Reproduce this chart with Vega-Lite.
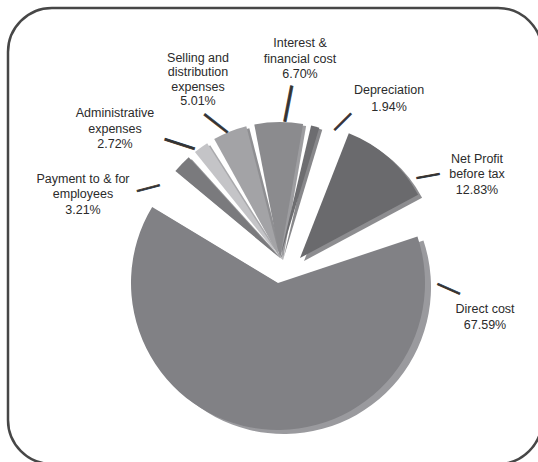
{
  "$schema": "https://vega.github.io/schema/vega-lite/v6.json",
  "autosize": {"type": "fit", "contains": "padding"},
  "width": 538,
  "height": 462,
  "padding": {"left": 8, "top": 8, "right": -4, "bottom": -2},
  "background": "white",
  "view": {"stroke": "#474747", "strokeWidth": 2.5, "cornerRadius": 44, "fill": "white"},
  "config": {
    "view": {"stroke": "#474747", "strokeWidth": 2.5, "cornerRadius": 44, "fill": "white"},
    "style": {"cell": {"stroke": "#474747", "strokeWidth": 2.5, "cornerRadius": 44, "fill": "white"}},
    "text": {"font": "Liberation Sans", "fontSize": 12.5, "color": "#2b2b2b", "lineHeight": 15.5}
  },
  "data": {
    "values": [
      {"item": "Payment to & for employees", "pct": 3.21, "label": ["Payment to & for", "employees", "3.21%"]},
      {"item": "Administrative expenses", "pct": 2.72, "label": ["Administrative", "expenses", "2.72%"]},
      {"item": "Selling and distribution expenses", "pct": 5.01, "label": ["Selling and", "distribution", "expenses", "5.01%"]},
      {"item": "Interest & financial cost", "pct": 6.70, "label": ["Interest &", "financial cost", "6.70%"]},
      {"item": "Depreciation", "pct": 1.94, "label": ["Depreciation", "1.94%"]},
      {"item": "Net Profit before tax", "pct": 12.83, "label": ["Net Profit", "before tax", "12.83%"]},
      {"item": "Direct cost", "pct": 67.59, "label": ["Direct cost", "67.59%"]}
    ]
  },
  "transform": [
    {"window": [{"op": "row_number", "as": "rank"}]},
    {"stack": "pct", "groupby": [], "sort": [{"field": "rank", "order": "ascending"}], "as": ["v0", "v1"]}
  ],
  "encoding": {
    "theta": {"field": "v0", "type": "quantitative", "stack": null, "scale": {"domain": [0, 100], "range": [-0.907571, 5.375614]}},
    "theta2": {"field": "v1"}
  },
  "layer": [
    {
      "transform": [{"filter": "datum.item === 'Direct cost'"}],
      "layer": [
        {"mark": {"type": "arc", "outerRadius": 147, "padAngle": 0.24, "xOffset": 9, "yOffset": 51},
         "encoding": {"fill": {"field": "item", "type": "nominal", "legend": null,
           "scale": {"domain": ["Payment to & for employees", "Administrative expenses", "Selling and distribution expenses", "Interest & financial cost", "Depreciation", "Net Profit before tax", "Direct cost"],
                     "range": ["#959598", "#a9a9ac", "#8f8f92", "#9d9da0", "#88888b", "#8d8d90", "#9a9a9e"]}}}},
        {"mark": {"type": "arc", "outerRadius": 147, "padAngle": 0.24, "xOffset": 3, "yOffset": 47},
         "encoding": {"color": {"field": "item", "type": "nominal", "legend": null,
           "scale": {"domain": ["Payment to & for employees", "Administrative expenses", "Selling and distribution expenses", "Interest & financial cost", "Depreciation", "Net Profit before tax", "Direct cost"],
                     "range": ["#7a7a7d", "#c4c4c7", "#a3a3a6", "#8b8b8e", "#6d6d70", "#6a6a6d", "#818185"]}}}}
      ]
    },
    {
      "transform": [{"filter": "datum.item !== 'Direct cost' && datum.item !== 'Net Profit before tax'"}],
      "layer": [
        {"mark": {"type": "arc", "outerRadius": 136, "padAngle": 0.06, "xOffset": 8, "yOffset": 24},
         "encoding": {"fill": {"field": "item", "type": "nominal", "legend": null}}},
        {"mark": {"type": "arc", "outerRadius": 136, "padAngle": 0.06, "xOffset": 5, "yOffset": 22},
         "encoding": {"color": {"field": "item", "type": "nominal", "legend": null}}}
      ]
    },
    {
      "transform": [{"filter": "datum.item === 'Net Profit before tax'"}],
      "layer": [
        {"mark": {"type": "arc", "outerRadius": 134, "padAngle": 0.1, "xOffset": 29, "yOffset": 25},
         "encoding": {"fill": {"field": "item", "type": "nominal", "legend": null}}},
        {"mark": {"type": "arc", "outerRadius": 134, "padAngle": 0.1, "xOffset": 25, "yOffset": 22},
         "encoding": {"color": {"field": "item", "type": "nominal", "legend": null}}}
      ]
    },
    {
      "transform": [{"filter": "datum.item === 'Payment to & for employees'"}],
      "layer": [
        {"mark": {"type": "text", "radius": 199.2, "thetaOffset": -0.3939, "align": "center", "baseline": "alphabetic"},
         "encoding": {"theta2": null, "text": {"field": "label", "type": "nominal"}}},
        {"mark": {"type": "text", "text": "—", "radius": 136.1, "thetaOffset": -0.2950, "angle": 345, "fontSize": 23, "align": "center", "baseline": "middle", "color": "#333333", "stroke": "#333333", "strokeWidth": 0.8},
         "encoding": {"theta2": null}}
      ]
    },
    {
      "transform": [{"filter": "datum.item === 'Administrative expenses'"}],
      "layer": [
        {"mark": {"type": "text", "radius": 199.4, "thetaOffset": -0.2255, "align": "center", "baseline": "alphabetic"},
         "encoding": {"theta2": null, "text": {"field": "label", "type": "nominal"}}},
        {"mark": {"type": "text", "text": "—", "radius": 132.9, "thetaOffset": -0.0901, "angle": 18, "fontSize": 31, "align": "center", "baseline": "middle", "color": "#333333", "stroke": "#333333", "strokeWidth": 0.8},
         "encoding": {"theta2": null}}
      ]
    },
    {
      "transform": [{"filter": "datum.item === 'Selling and distribution expenses'"}],
      "layer": [
        {"mark": {"type": "text", "radius": 190.3, "thetaOffset": 0.1183, "align": "center", "baseline": "alphabetic", "lineHeight": 14.5},
         "encoding": {"theta2": null, "text": {"field": "label", "type": "nominal"}}},
        {"mark": {"type": "text", "text": "—", "radius": 127.9, "thetaOffset": 0.0642, "angle": 38, "fontSize": 29, "align": "center", "baseline": "middle", "color": "#333333", "stroke": "#333333", "strokeWidth": 0.8},
         "encoding": {"theta2": null}}
      ]
    },
    {
      "transform": [{"filter": "datum.item === 'Interest & financial cost'"}],
      "layer": [
        {"mark": {"type": "text", "radius": 190.6, "thetaOffset": 0.3517, "align": "center", "baseline": "alphabetic"},
         "encoding": {"theta2": null, "text": {"field": "label", "type": "nominal"}}},
        {"mark": {"type": "text", "text": "—", "radius": 132.8, "thetaOffset": 0.3334, "angle": 101, "fontSize": 36, "align": "center", "baseline": "middle", "color": "#333333", "stroke": "#333333", "strokeWidth": 0.8},
         "encoding": {"theta2": null}}
      ]
    },
    {
      "transform": [{"filter": "datum.item === 'Depreciation'"}],
      "layer": [
        {"mark": {"type": "text", "radius": 182.1, "thetaOffset": 0.4758, "align": "center", "baseline": "alphabetic", "lineHeight": 16.5},
         "encoding": {"theta2": null, "text": {"field": "label", "type": "nominal"}}},
        {"mark": {"type": "text", "text": "—", "radius": 133.1, "thetaOffset": 0.3267, "angle": 315, "fontSize": 23, "align": "center", "baseline": "middle", "color": "#333333", "stroke": "#333333", "strokeWidth": 0.8},
         "encoding": {"theta2": null}}
      ]
    },
    {
      "transform": [{"filter": "datum.item === 'Net Profit before tax'"}],
      "layer": [
        {"mark": {"type": "text", "radius": 214.8, "thetaOffset": 0.9013, "align": "center", "baseline": "alphabetic"},
         "encoding": {"theta2": null, "text": {"field": "label", "type": "nominal"}}},
        {"mark": {"type": "text", "text": "—", "radius": 164.7, "thetaOffset": 0.8686, "angle": 350, "fontSize": 23, "align": "center", "baseline": "middle", "color": "#333333", "stroke": "#333333", "strokeWidth": 0.8},
         "encoding": {"theta2": null}}
      ]
    },
    {
      "transform": [{"filter": "datum.item === 'Direct cost'"}],
      "layer": [
        {"mark": {"type": "text", "radius": 223.7, "thetaOffset": 0.7934, "align": "center", "baseline": "alphabetic", "lineHeight": 16},
         "encoding": {"theta2": null, "text": {"field": "label", "type": "nominal"}}},
        {"mark": {"type": "text", "text": "—", "radius": 181.6, "thetaOffset": 0.7323, "angle": 24, "fontSize": 24, "align": "center", "baseline": "middle", "color": "#333333", "stroke": "#333333", "strokeWidth": 0.8},
         "encoding": {"theta2": null}}
      ]
    }
  ]
}
